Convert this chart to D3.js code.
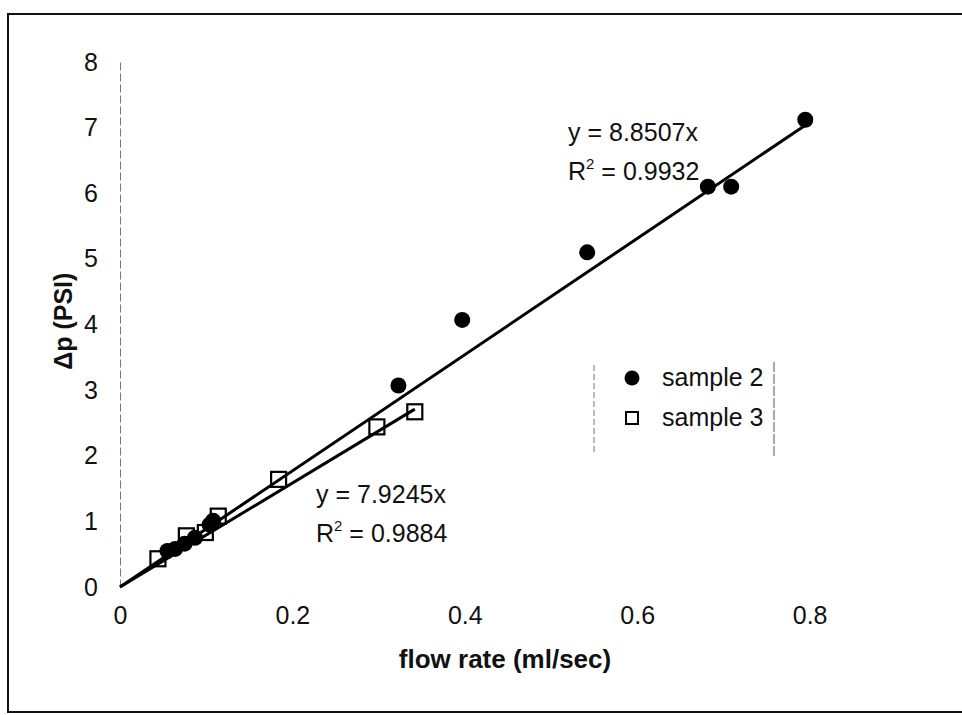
<!DOCTYPE html>
<html>
<head>
<meta charset="utf-8">
<script src="https://cdn.jsdelivr.net/npm/d3@7"></script>
<style>
  body { margin: 0; background: #fff; }
  svg { display: block; font-family: "Liberation Sans", Arial, sans-serif; }
</style>
</head>
<body>
<div id="chart"></div>
<script>
// sample 2 (filled circles), flow rate in ml/sec
var sample2X = [0.055, 0.064, 0.075, 0.087, 0.104, 0.108, 0.323, 0.397, 0.542, 0.682, 0.709, 0.795];
// sample 2, pressure drop in PSI
var sample2Y = [0.55, 0.58, 0.66, 0.75, 0.95, 1.01, 3.07, 4.07, 5.10, 6.10, 6.10, 7.12];

// sample 3 (open squares)
var sample3X = [0.044, 0.077, 0.099, 0.114, 0.184, 0.298, 0.342];
var sample3Y = [0.43, 0.78, 0.83, 1.08, 1.64, 2.44, 2.67];

// linear fits through origin
var slope2 = 8.8507, r2Sample2 = "0.9932";
var slope3 = 7.9245, r2Sample3 = "0.9884";

var xTicks = [0, 0.2, 0.4, 0.6, 0.8];
var yTicks = [0, 1, 2, 3, 4, 5, 6, 7, 8];
var legendLabels = ["sample 2", "sample 3"];

var width = 962, height = 715;
var fontSize = 25;

var svg = d3.select("#chart").append("svg")
  .attr("width", width)
  .attr("height", height);

var x = d3.scaleLinear().domain([0, 1]).range([120, 982]);
var y = d3.scaleLinear().domain([0, 8]).range([587, 62]);

// outer chart border
svg.append("rect")
  .attr("x", 8).attr("y", 14)
  .attr("width", 1000).attr("height", 698)
  .attr("fill", "none")
  .attr("stroke", "#111")
  .attr("stroke-width", 2);

// y axis (faint, dashed like the scan)
var yAxis = svg.append("g")
  .attr("transform", "translate(" + x(0) + ",0)")
  .call(d3.axisLeft(y).tickValues(yTicks).tickSize(0).tickPadding(22).tickFormat(d3.format("d")));
yAxis.select(".domain").attr("stroke", "#777").attr("stroke-dasharray", "8,3");
yAxis.selectAll("text").attr("font-size", fontSize).attr("fill", "#111").attr("font-family", "Liberation Sans, Arial");

// x axis: line is almost invisible in the scan, keep labels only
var xAxis = svg.append("g")
  .attr("transform", "translate(0," + y(0) + ")")
  .call(d3.axisBottom(x).tickValues(xTicks).tickSize(0).tickPadding(19).tickFormat(function(d) { return d === 0 ? "0" : d3.format(".1f")(d); }));
xAxis.select(".domain").remove();
xAxis.selectAll("text").attr("font-size", fontSize).attr("fill", "#111").attr("font-family", "Liberation Sans, Arial");

// axis titles
svg.append("text")
  .attr("transform", "translate(72," + y(4.05) + ") rotate(-90)")
  .attr("text-anchor", "middle")
  .attr("font-size", fontSize)
  .attr("font-weight", "bold")
  .attr("fill", "#111")
  .text("Δp (PSI)");

svg.append("text")
  .attr("x", 505).attr("y", 668)
  .attr("text-anchor", "middle")
  .attr("font-size", 26)
  .attr("font-weight", "bold")
  .attr("fill", "#111")
  .text("flow rate (ml/sec)");

// trendlines
function trend(slope, xs) {
  var xMax = d3.max(xs);
  return [[0, 0], [xMax, slope * xMax]];
}
var line = d3.line().x(function(d) { return x(d[0]); }).y(function(d) { return y(d[1]); });

svg.append("path")
  .attr("d", line(trend(slope2, sample2X)))
  .attr("stroke", "#000").attr("stroke-width", 3).attr("fill", "none");
svg.append("path")
  .attr("d", line(trend(slope3, sample3X)))
  .attr("stroke", "#000").attr("stroke-width", 3).attr("fill", "none");

// points
var s2 = sample2X.map(function(v, i) { return [v, sample2Y[i]]; });
var s3 = sample3X.map(function(v, i) { return [v, sample3Y[i]]; });

svg.append("g").selectAll("circle")
  .data(s2).enter().append("circle")
  .attr("cx", function(d) { return x(d[0]); })
  .attr("cy", function(d) { return y(d[1]); })
  .attr("r", 8)
  .attr("fill", "#000");

svg.append("g").selectAll("rect")
  .data(s3).enter().append("rect")
  .attr("x", function(d) { return x(d[0]) - 7.5; })
  .attr("y", function(d) { return y(d[1]) - 7.5; })
  .attr("width", 15).attr("height", 15)
  .attr("fill", "none")
  .attr("stroke", "#000").attr("stroke-width", 2.2);

// equation labels
function eqLabel(px, py, slope, r2) {
  var g = svg.append("g").attr("font-size", fontSize).attr("fill", "#111");
  g.append("text").attr("x", px).attr("y", py).text("y = " + slope + "x");
  var t = g.append("text").attr("x", px).attr("y", py + 39);
  t.append("tspan").text("R");
  t.append("tspan").attr("font-size", 15).attr("dy", -11).text("2");
  t.append("tspan").attr("dy", 11).text(" = " + r2);
}
eqLabel(568, 141, slope2, r2Sample2);
eqLabel(316, 503, slope3, r2Sample3);

// legend
var legend = svg.append("g");
legend.append("line").attr("x1", 594).attr("x2", 594).attr("y1", 365).attr("y2", 452)
  .attr("stroke", "#777").attr("stroke-dasharray", "6,3");
legend.append("line").attr("x1", 774).attr("x2", 774).attr("y1", 362).attr("y2", 456)
  .attr("stroke", "#555").attr("stroke-dasharray", "10,2");

var items = legend.selectAll(".item")
  .data(legendLabels).enter().append("g")
  .attr("transform", function(d, i) { return "translate(0," + (378 + i * 40) + ")"; });
items.filter(function(d, i) { return i === 0; }).append("circle")
  .attr("cx", 632).attr("cy", 0).attr("r", 7.5).attr("fill", "#000");
items.filter(function(d, i) { return i === 1; }).append("rect")
  .attr("x", 626).attr("y", -6).attr("width", 12).attr("height", 12)
  .attr("fill", "none").attr("stroke", "#000").attr("stroke-width", 2);
items.append("text")
  .attr("x", 662).attr("y", 8)
  .attr("font-size", fontSize).attr("fill", "#111")
  .text(function(d) { return d; });
</script>
</body>
</html>
